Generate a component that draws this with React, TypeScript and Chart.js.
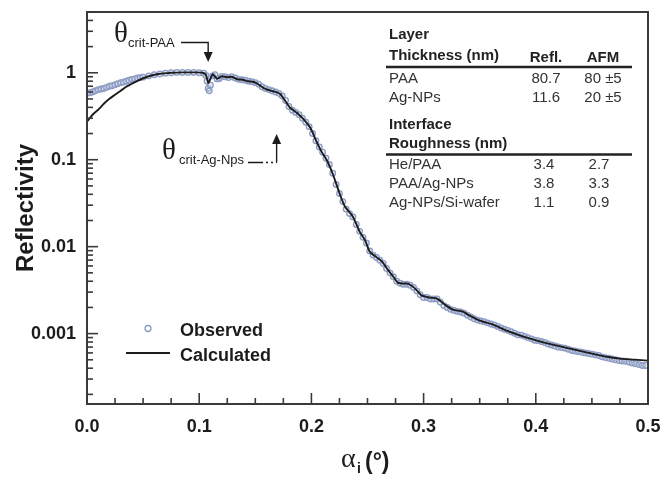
import React, { useEffect, useRef } from "react";
import { Chart, registerables } from "chart.js";

Chart.register(...registerables);

const SANS = '"Liberation Sans", Arial, Helvetica, sans-serif';
const SERIF = '"Liberation Serif", "Times New Roman", serif';

// Calculated reflectivity curve (alpha_i in degrees, reflectivity)
const CALC_X = [
  0, 0.005, 0.01, 0.015, 0.02, 0.025, 0.03, 0.035, 0.04, 0.045,
  0.05, 0.055, 0.06, 0.065, 0.07, 0.075, 0.085, 0.095, 0.103, 0.106,
  0.108, 0.11, 0.112, 0.116, 0.12, 0.125, 0.129, 0.134, 0.139, 0.1435,
  0.148, 0.152, 0.157, 0.161, 0.166, 0.172, 0.176, 0.181, 0.187, 0.1925,
  0.199, 0.205, 0.209, 0.214, 0.219, 0.2255, 0.23, 0.237, 0.243, 0.248,
  0.252, 0.2585, 0.263, 0.268, 0.273, 0.277, 0.282, 0.286, 0.2905, 0.295,
  0.2985, 0.306, 0.312, 0.319, 0.326, 0.335, 0.341, 0.35, 0.362, 0.374,
  0.389, 0.401, 0.415, 0.4305, 0.446, 0.46, 0.475, 0.488, 0.5,
];
const CALC_Y = [
  0.273, 0.329, 0.376, 0.44, 0.502, 0.559, 0.621, 0.69, 0.747, 0.809,
  0.865, 0.912, 0.948, 0.974, 0.987, 1.0, 1.01, 1.01, 1.0, 0.948,
  0.767, 0.853, 0.961, 0.853, 0.912, 0.888, 0.9, 0.842, 0.831, 0.798,
  0.788, 0.747, 0.672, 0.638, 0.613, 0.574, 0.489, 0.396, 0.347, 0.296,
  0.233, 0.157, 0.124, 0.0974, 0.069, 0.0396, 0.0288, 0.0221, 0.01488, 0.01172,
  0.00876, 0.00748, 0.00673, 0.00544, 0.00452, 0.00386, 0.00376, 0.00376, 0.00347, 0.00304,
  0.00273, 0.00259, 0.00253, 0.00215, 0.00189, 0.00179, 0.00161, 0.00141, 0.00127, 0.00108,
  0.000924, 0.000832, 0.000748, 0.000673, 0.000605, 0.000551, 0.000516, 0.000502, 0.000489,
];

// Observed reflectivity points
const OBS_X = [
  0, 0.0025, 0.005, 0.0075, 0.01, 0.0125, 0.015, 0.0175, 0.02, 0.0225,
  0.025, 0.0275, 0.03, 0.0325, 0.035, 0.0375, 0.04, 0.0425, 0.045, 0.0475,
  0.05, 0.055, 0.06, 0.065, 0.07, 0.075, 0.08, 0.085, 0.09, 0.095,
  0.1, 0.104, 0.106, 0.107, 0.108, 0.109, 0.11, 0.112, 0.114, 0.116,
  0.118, 0.12,
  0.123, 0.126, 0.129, 0.132, 0.135, 0.138, 0.141, 0.144, 0.147, 0.15,
  0.153, 0.156, 0.159, 0.162, 0.165, 0.168, 0.171, 0.174, 0.177, 0.18,
  0.183, 0.186, 0.189, 0.192, 0.195, 0.198, 0.201, 0.204, 0.207, 0.21,
  0.213, 0.216, 0.219, 0.222, 0.225, 0.228, 0.231, 0.234, 0.237, 0.24,
  0.243, 0.246, 0.249, 0.252, 0.255, 0.258, 0.261, 0.264, 0.267, 0.27,
  0.273, 0.276, 0.279, 0.282, 0.285, 0.288, 0.291, 0.294, 0.297, 0.3,
  0.303, 0.306, 0.309, 0.312, 0.315, 0.318, 0.321, 0.324, 0.327, 0.33,
  0.333, 0.336, 0.339, 0.342, 0.345, 0.348, 0.351, 0.354, 0.357, 0.36,
  0.363, 0.366, 0.369, 0.372, 0.375, 0.378, 0.381, 0.384, 0.387, 0.39,
  0.393, 0.396, 0.399, 0.402, 0.405, 0.408, 0.411, 0.414, 0.417, 0.42,
  0.423, 0.426, 0.429, 0.432, 0.435, 0.438, 0.441, 0.444, 0.447, 0.45,
  0.453, 0.456, 0.459, 0.462, 0.465, 0.468, 0.471, 0.474, 0.477, 0.48,
  0.483, 0.486, 0.489, 0.492, 0.495, 0.498,
];
const OBS_Y = [
  0.58, 0.59, 0.6, 0.62, 0.64, 0.65, 0.66, 0.68, 0.7, 0.71,
  0.73, 0.75, 0.77, 0.78, 0.8, 0.82, 0.84, 0.85, 0.87, 0.88,
  0.89, 0.92, 0.95, 0.97, 0.99, 1.0, 1.01, 1.01, 1.01, 1.01,
  1.0, 0.99, 0.93, 0.8, 0.66, 0.62, 0.72, 0.92, 0.95, 0.85,
  0.86, 0.91,
  0.9, 0.88, 0.9, 0.87, 0.84, 0.83, 0.82, 0.8, 0.79, 0.77,
  0.74, 0.69, 0.66, 0.64, 0.62, 0.6, 0.58, 0.54, 0.48, 0.41,
  0.37, 0.35, 0.33, 0.3, 0.27, 0.24, 0.2, 0.165, 0.14, 0.122,
  0.104, 0.088, 0.07, 0.052, 0.041, 0.033, 0.027, 0.024, 0.022, 0.018,
  0.015, 0.0128, 0.011, 0.0089, 0.008, 0.0075, 0.007, 0.0064, 0.0056, 0.005,
  0.0045, 0.004, 0.0038, 0.0037, 0.0037, 0.0036, 0.0034, 0.0031, 0.0028, 0.0026,
  0.0026, 0.0025, 0.0025, 0.0025, 0.0023, 0.0021, 0.002, 0.0019, 0.00185, 0.0018,
  0.00177, 0.00172, 0.00163, 0.00155, 0.00148, 0.00143, 0.0014, 0.00137, 0.00133, 0.00129,
  0.00126, 0.00121, 0.00116, 0.00112, 0.00109, 0.00105, 0.00101, 0.00097, 0.00096, 0.00093,
  0.0009, 0.00087, 0.00084, 0.00083, 0.00081, 0.00079, 0.00076, 0.00074, 0.00072, 0.0007,
  0.00069, 0.00068, 0.00066, 0.00064, 0.00063, 0.00062, 0.00061, 0.0006, 0.00059, 0.00058,
  0.00057, 0.00056, 0.00054, 0.00053, 0.00052, 0.00051, 0.0005, 0.00049, 0.000485, 0.00048,
  0.00047, 0.00046, 0.00045, 0.00044, 0.00043, 0.00043,
];

const X_TICKS = [0, 0.1, 0.2, 0.3, 0.4, 0.5];
const Y_TICKS = [0.001, 0.01, 0.1, 1];
const CRIT_ANGLES = [0.108, 0.169]; // theta crit PAA, theta crit Ag-NPs

const THICK_ROWS = ["PAA", "Ag-NPs"];
const THICK_REFL = ["80.7", "11.6"];
const THICK_AFM = ["80 ±5", "20 ±5"];
const ROUGH_ROWS = ["He/PAA", "PAA/Ag-NPs", "Ag-NPs/Si-wafer"];
const ROUGH_REFL = ["3.4", "3.8", "1.1"];
const ROUGH_AFM = ["2.7", "3.3", "0.9"];

const OBS_COLOR = "#8c9bc3";
const INK = "#1c1c1c";

function arrowHead(ctx: CanvasRenderingContext2D, x: number, tipY: number, dir: number) {
  ctx.beginPath();
  ctx.moveTo(x, tipY);
  ctx.lineTo(x - 4.5, tipY - dir * 10);
  ctx.lineTo(x + 4.5, tipY - dir * 10);
  ctx.closePath();
  ctx.fill();
}

const overlay = {
  id: "overlay",
  afterDraw(chart: any) {
    const { ctx, chartArea: a, scales } = chart;
    const xs = scales.x;
    const ys = scales.y;
    ctx.save();
    // frame
    ctx.strokeStyle = "#3a3a3a";
    ctx.lineWidth = 2;
    ctx.strokeRect(a.left, a.top, a.right - a.left, a.bottom - a.top);

    // inward x ticks
    ctx.lineWidth = 1.6;
    for (let i = 0; i <= 20; i++) {
      const px = xs.getPixelForValue(i * 0.025);
      const len = i % 4 === 0 ? 11 : 6;
      ctx.beginPath();
      ctx.moveTo(px, a.bottom);
      ctx.lineTo(px, a.bottom - len);
      ctx.stroke();
    }
    // inward y ticks (log)
    for (let d = -4; d <= 0; d++) {
      for (let m = 1; m <= 9; m++) {
        const v = m * Math.pow(10, d);
        if (v < ys.min || v > ys.max) continue;
        const py = ys.getPixelForValue(v);
        const len = m === 1 ? 11 : 6;
        ctx.beginPath();
        ctx.moveTo(a.left, py);
        ctx.lineTo(a.left + len, py);
        ctx.stroke();
      }
    }

    // axis titles
    ctx.fillStyle = INK;
    ctx.save();
    ctx.translate(26, (a.top + a.bottom) / 2);
    ctx.rotate(-Math.PI / 2);
    ctx.font = `bold 24px ${SANS}`;
    ctx.textAlign = "center";
    ctx.textBaseline = "middle";
    ctx.fillText("Reflectivity", 0, 0);
    ctx.restore();

    ctx.textAlign = "left";
    ctx.textBaseline = "alphabetic";
    ctx.font = `28px ${SERIF}`;
    ctx.fillText("α", 341, 467);
    ctx.font = `bold 14px ${SANS}`;
    ctx.fillText("i", 357, 473);
    ctx.font = `bold 23px ${SANS}`;
    ctx.fillText("(°)", 365, 469);

    // critical angle annotations
    const cx1 = xs.getPixelForValue(CRIT_ANGLES[0]);
    const cx2 = xs.getPixelForValue(CRIT_ANGLES[1]);
    ctx.font = `29px ${SERIF}`;
    ctx.fillText("θ", 114, 42);
    ctx.font = `13px ${SANS}`;
    ctx.fillText("crit-PAA", 128, 47);
    ctx.strokeStyle = INK;
    ctx.lineWidth = 1.4;
    ctx.beginPath();
    ctx.moveTo(181, 42.5);
    ctx.lineTo(cx1, 42.5);
    ctx.lineTo(cx1, 53);
    ctx.stroke();
    arrowHead(ctx, cx1, 62, 1);

    ctx.font = `29px ${SERIF}`;
    ctx.fillText("θ", 162, 159);
    ctx.font = `13px ${SANS}`;
    ctx.fillText("crit-Ag-Nps", 179, 164);
    ctx.beginPath();
    ctx.setLineDash([15, 3, 2, 3, 2, 3]);
    ctx.moveTo(248, 162.5);
    ctx.lineTo(cx2, 162.5);
    ctx.stroke();
    ctx.setLineDash([]);
    ctx.beginPath();
    ctx.moveTo(cx2, 162.5);
    ctx.lineTo(cx2, 143);
    ctx.stroke();
    arrowHead(ctx, cx2, 134, -1);

    // legend
    ctx.strokeStyle = OBS_COLOR;
    ctx.lineWidth = 1.3;
    ctx.beginPath();
    ctx.arc(148, 328.5, 3, 0, Math.PI * 2);
    ctx.stroke();
    ctx.strokeStyle = INK;
    ctx.lineWidth = 2;
    ctx.beginPath();
    ctx.moveTo(126, 353);
    ctx.lineTo(170, 353);
    ctx.stroke();
    ctx.font = `bold 18px ${SANS}`;
    ctx.fillText("Observed", 180, 336);
    ctx.fillText("Calculated", 180, 361);

    // table
    const colL = 389;
    const colR = 546;
    const colA = 603;
    ctx.fillStyle = "#222";
    ctx.font = `bold 15px ${SANS}`;
    ctx.textAlign = "left";
    ctx.fillText("Layer", colL, 38.5);
    ctx.fillText("Thickness (nm)", colL, 59.5);
    ctx.textAlign = "center";
    ctx.fillText("Refl.", colR, 61.5);
    ctx.fillText("AFM", colA, 61.5);
    ctx.strokeStyle = "#222";
    ctx.lineWidth = 2.4;
    ctx.beginPath();
    ctx.moveTo(386, 67);
    ctx.lineTo(632, 67);
    ctx.stroke();
    ctx.font = `15px ${SANS}`;
    ctx.fillStyle = "#333";
    THICK_ROWS.forEach((r, i) => {
      const y = 83 + i * 18.5;
      ctx.textAlign = "left";
      ctx.fillText(r, colL, y);
      ctx.textAlign = "center";
      ctx.fillText(THICK_REFL[i], colR, y);
      ctx.fillText(THICK_AFM[i], colA, y);
    });
    ctx.fillStyle = "#222";
    ctx.font = `bold 15px ${SANS}`;
    ctx.textAlign = "left";
    ctx.fillText("Interface", colL, 129);
    ctx.fillText("Roughness (nm)", colL, 148);
    ctx.beginPath();
    ctx.moveTo(386, 154.5);
    ctx.lineTo(632, 154.5);
    ctx.stroke();
    ctx.font = `15px ${SANS}`;
    ctx.fillStyle = "#333";
    ROUGH_ROWS.forEach((r, i) => {
      const y = 168.5 + i * 19.2;
      ctx.textAlign = "left";
      ctx.fillText(r, colL, y);
      ctx.textAlign = "center";
      ctx.fillText(ROUGH_REFL[i], colR - 2, y);
      ctx.fillText(ROUGH_AFM[i], colA - 4, y);
    });
    ctx.restore();
  },
};

export default function App() {
  const ref = useRef<HTMLCanvasElement | null>(null);
  useEffect(() => {
    document.body.style.margin = "0";
    document.body.style.background = "#ffffff";
    const canvas = ref.current;
    if (!canvas) return;
    const calc = CALC_X.map((x, i) => ({ x, y: CALC_Y[i] }));
    const obs = OBS_X.map((x, i) => ({ x, y: OBS_Y[i] }));
    const chart = new Chart(canvas, {
      type: "scatter",
      data: {
        datasets: [
          {
            label: "Calculated",
            data: calc,
            showLine: true,
            borderColor: INK,
            borderWidth: 1.9,
            pointRadius: 0,
            tension: 0.25,
            order: 0,
          },
          {
            label: "Observed",
            data: obs,
            showLine: false,
            pointRadius: 2.8,
            pointBorderWidth: 1.3,
            pointBorderColor: OBS_COLOR,
            pointBackgroundColor: "rgba(200,210,232,0.35)",
            order: 1,
          },
        ],
      },
      options: {
        animation: false,
        responsive: false,
        devicePixelRatio: 1,
        layout: { padding: { top: 12, right: 15, left: 0, bottom: 0 } },
        plugins: { legend: { display: false }, tooltip: { enabled: false } },
        scales: {
          x: {
            type: "linear",
            min: 0,
            max: 0.5,
            afterFit: (s: any) => {
              s.height = 77;
              s.paddingLeft = 0;
              s.paddingRight = 0;
            },
            afterBuildTicks: (s: any) => {
              s.ticks = X_TICKS.map((v) => ({ value: v }));
            },
            grid: { display: false, drawTicks: false },
            border: { display: false },
            ticks: {
              padding: 12,
              color: INK,
              font: { family: SANS, size: 18, weight: "bold" },
              callback: (v: any) => Number(v).toFixed(1),
              maxRotation: 0,
            },
          },
          y: {
            type: "logarithmic",
            min: 0.000155,
            max: 5,
            afterFit: (s: any) => {
              s.width = 87;
              s.paddingTop = 0;
              s.paddingBottom = 0;
            },
            afterBuildTicks: (s: any) => {
              s.ticks = Y_TICKS.map((v) => ({ value: v }));
            },
            grid: { display: false, drawTicks: false },
            border: { display: false },
            ticks: {
              padding: 11,
              color: INK,
              font: { family: SANS, size: 18, weight: "bold" },
              callback: (v: any) => String(Number(v)),
            },
          },
        },
      },
      plugins: [overlay],
    });
    return () => chart.destroy();
  }, []);
  return (
    <div style={{ width: 663, height: 481, position: "relative" }}>
      <canvas ref={ref} width={663} height={481} style={{ display: "block" }} />
    </div>
  );
}
